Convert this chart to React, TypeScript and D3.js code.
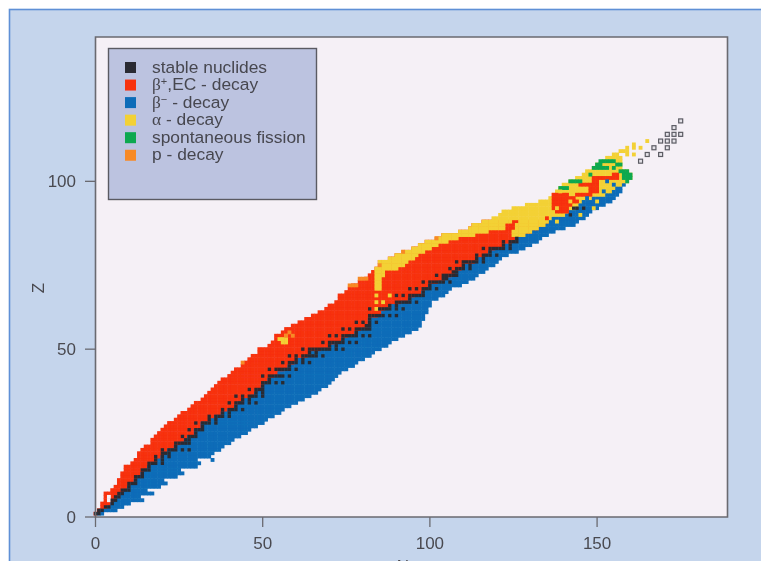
import React from "react";
import * as d3 from "d3";

// One entry per Z, starting at Z = 1
const protonEdge = [0,1,2,2,3,3,3,5,6,7,7,8,8,9,9,11,12,13,13,14,15,17,17,18,19,20,21,22,24,25,26,28,29,30,32,33,34,35,36,37,38,40,41,42,44,45,46,47,49,49,52,53,54,54,56,57,59,61,63,65,67,69,70,72,73,73,75,76,77,79,81,82,83,84,85,85,88,90,92,95,97,99,102,104,109,112,113,116,119,121,122,125,129,133,136,137,138,139,140,142,144,146,147,149,150,152,153];
const neutronEdge = [2,6,8,10,14,13,17,15,19,21,20,24,26,25,30,31,30,34,35,37,38,40,41,43,45,46,48,50,51,53,55,56,58,60,62,64,66,67,69,70,71,72,73,75,77,78,80,82,83,85,87,88,90,92,94,96,97,97,98,98,99,99,100,100,102,104,105,106,109,111,113,114,116,117,119,120,121,123,126,128,130,132,133,135,137,140,143,144,146,147,148,150,152,154,155,156,157,157,158,159,160,160,159,157,157,157,157];
const blueStart = [1,2,4,5,6,7,8,9,10,11,12,13,14,15,16,17,19,20,21,22,24,26,27,28,30,30,32,32,35,36,38,40,42,43,45,47,48,49,50,51,52,54,55,57,58,60,61,64,65,68,71,72,74,76,78,80,82,82,82,85,86,87,89,92,94,96,98,99,100,103,105,107,108,110,111,114,115,117,118,120,123,125,126,129,131,133,135,136,137,141,142,144,145,146,149,153,155,156,158,160,161,161,160,158,158,158,158];

const stableN: number[][] = [[0,1],[1,2],[3,4],[5],[5,6],[6,7],[7,8],[8,9,10],[10],[10,11,12],[12],[12,13,14],[14],[14,15,16],[16],[16,17,18,20],[18,20],[18,20,22],[20,21,22],[20,22,23,24,26,28],[24],[24,25,26,27,28],[27,28],[26,28,29,30],[30],[28,30,31,32],[32],[30,32,33,34,36],[34,36],[34,36,37,38,40],[38,40],[38,40,41,42,44],[42],[40,42,43,44,46,48],[44,46],[42,44,46,47,48,50],[48,50],[46,48,49,50],[50],[50,51,52,54,56],[52],[50,52,53,54,55,56,58],[],[52,54,55,56,57,58,60],[58],[56,58,59,60,62,64],[60,62],[58,60,62,63,64,65,66,68],[64,66],[62,64,65,66,67,68,69,70,72,74],[70,72],[68,70,71,72,73,74,76,78],[74],[70,72,74,75,76,77,78,80,82],[78],[74,76,78,79,80,81,82],[81,82],[78,80,82,84],[82],[82,83,84,85,86,88,90],[],[82,85,86,87,88,90,92],[88,90],[90,91,92,93,94,96],[94],[90,92,94,95,96,97,98],[98],[94,96,98,99,100,102],[100],[98,100,101,102,103,104,106],[104,105],[102,104,105,106,107,108],[107,108],[106,108,109,110,112],[110,112],[108,110,111,112,113,114,116],[114,116],[114,116,117,118,120],[118],[116,118,119,120,121,122,124],[122,124],[122,124,125,126],[126],[],[],[],[],[],[],[142],[],[143,144,146]];

// [Z, first N, last N]
const alphaRuns = [
  [68,84,85],[69,84,85],[70,84,85],[71,84,85],[72,84,86],[73,84,86],[74,84,90],[75,85,92],[76,85,93],[77,88,95],[78,90,96],[79,92,98],[80,95,100],[81,97,102],[82,99,105],[83,102,108],
  [84,104,113],[84,125,128],[85,109,117],[85,126,130],[86,112,122],[86,126,132],[87,113,122],[87,126,134],[88,116,124],[88,127,135],
  [53,55,57],[52,56,57],[54,57,57],[108,155,156],[108,159,159],[108,161,161],[109,157,159],[110,159,159],[110,161,161],[110,163,163],[111,161,161],[112,165,165],
];
const alphaSpots = [[84,66],[84,64],[86,64],[88,66],[84,62],[125,85],[138,88],[138,92],[142,94],[150,94],[145,90],[149,92],[139,97]];
const redRuns = [
  [91,138,141],[92,137,141],[93,137,142],[94,137,144],[95,137,143],[96,137,141],[96,144,148],[97,148,150],[98,148,150],[99,145,150],[100,149,150],[101,149,156],[102,155,156],[89,135,135],
];
const greenRuns = [
  [98,139,141],[100,142,145],[102,148,148],[104,149,153],[105,150,151],[106,151,155],[102,158,160],[101,158,160],[103,157,159],[104,155,155],[105,156,157],[100,159,159],
];
const orangeSpots = [[76,69],[77,69],[78,69],[79,71],[80,71],[81,71],[102,83],[92,79],[85,75],[58,55],[57,54],[44,46],[59,54]];
const blueSpots = [[153,100],[155,99],[147,95],[152,97],[35,17]];
const openCells = [[175,118],[173,116],[171,114],[173,114],[175,114],[169,112],[171,112],[173,112],[167,110],[171,110],[165,108],[169,108],[163,106]];
const blankCells = [[4,5],[4,6]];

const xTicks = [0, 50, 100, 150];
const yTicks = [0, 50, 100];
const legendItems = ["stable nuclides", "beta+", "beta-", "alpha", "spontaneous fission", "p - decay"];
const legendColors = ["#2a2b30", "#f7300f", "#0a6cb8", "#f3d135", "#09a850", "#f78a26"];

const colors = { red: legendColors[1], blue: legendColors[2], alpha: legendColors[3], green: legendColors[4], orange: legendColors[5], dark: legendColors[0] };
const BG = "#f5f0f6";

const x = d3.scaleLinear().domain([0, 189]).range([95.5, 727.5]);
const y = d3.scaleLinear().domain([0, 143]).range([517, 37]);
const cw = x(1) - x(0);
const ch = y(0) - y(1);

function Cell({ n, z, c, k = 1 }: { n: number; z: number; c: string; k?: number }) {
  const pad = k === 1 ? 0.25 : 0;
  return <rect x={x(n) - (cw * k) / 2 - pad} y={y(z) - (ch * k) / 2 - pad} width={cw * k + 2 * pad} height={ch * k + 2 * pad} fill={c} />;
}
function Runs({ runs, c }: { runs: number[][]; c: string }) {
  return (
    <>
      {runs.flatMap(([z, a, b]) =>
        d3.range(a, b + 1).map((n) => <Cell key={`${z}-${n}`} n={n} z={z} c={c} />)
      )}
    </>
  );
}
function Spots({ list, c, k }: { list: number[][]; c: string; k?: number }) {
  return <>{list.map(([n, z]) => <Cell key={`${n}-${z}`} n={n} z={z} c={c} k={k} />)}</>;
}

function LegendLabel({ item, ty }: { item: string; ty: number }) {
  const serif = "'Liberation Serif', serif";
  if (item === "beta+")
    return (
      <text x={152} y={ty}>
        <tspan fontFamily={serif}>β</tspan>
        <tspan fontSize={11} dy={-5}>+</tspan>
        <tspan dy={5}>,EC - decay</tspan>
      </text>
    );
  if (item === "beta-")
    return (
      <text x={152} y={ty}>
        <tspan fontFamily={serif}>β</tspan>
        <tspan fontSize={11} dy={-5}>−</tspan>
        <tspan dy={5}> - decay</tspan>
      </text>
    );
  if (item === "alpha")
    return (
      <text x={152} y={ty}>
        <tspan fontFamily={serif}>α</tspan>
        <tspan> - decay</tspan>
      </text>
    );
  return <text x={152} y={ty}>{item}</text>;
}

export default function App() {
  const base = protonEdge.map((_, i) => i + 1);
  return (
    <svg width={761} height={561} style={{ position: "absolute", left: 0, top: 0, background: "#fff" }} fontFamily="'Liberation Sans', Arial, sans-serif">
      <defs>
        <filter id="soft" x="-2%" y="-2%" width="104%" height="104%">
          <feGaussianBlur stdDeviation="0.6" />
        </filter>
      </defs>
      <g filter="url(#soft)">
        <rect x={9.5} y={9.5} width={780} height={600} fill="#c5d5ec" stroke="#5e90d6" strokeWidth={1.6} />
        <rect x={x(0)} y={y(143)} width={x(189) - x(0)} height={y(0) - y(143)} fill={BG} />

        <g>
          {base.map((z) => {
            const a = protonEdge[z - 1];
            const s = blueStart[z - 1];
            const b = neutronEdge[z - 1];
            return (
              <g key={z}>
                {d3.range(a, Math.min(s, b + 1)).map((n) => (
                  <Cell key={n} n={n} z={z} c={z <= 88 ? colors.red : colors.alpha} />
                ))}
                {d3.range(s, b + 1).map((n) => (
                  <Cell key={n} n={n} z={z} c={colors.blue} />
                ))}
              </g>
            );
          })}
          <Runs runs={alphaRuns} c={colors.alpha} />
          <Runs runs={redRuns} c={colors.red} />
          <Runs runs={greenRuns} c={colors.green} />
          <Spots list={alphaSpots} c={colors.alpha} />
          <Spots list={orangeSpots} c={colors.orange} />
          <Spots list={blueSpots} c={colors.blue} />
          <Spots list={blankCells} c={BG} />
          {stableN.flatMap((ns, i) => ns.map((n) => <Cell key={`s${i}-${n}`} n={n} z={i + 1} c={colors.dark} k={0.999} />))}
          {openCells.map(([n, z]) => (
            <rect key={`${n}-${z}`} x={x(n) - 2} y={y(z) - 2} width={4} height={4} fill="#e4e2e8" stroke="#5c5c64" strokeWidth={1.2} />
          ))}
        </g>

        <path d={`M${x(0)},${y(143)}H${x(189)}V${y(0)}H${x(0)}Z`} fill="none" stroke="#6a6a70" strokeWidth={1.6} />
        {xTicks.map((t) => (
          <g key={t}>
            <line x1={x(t)} x2={x(t)} y1={517} y2={527} stroke="#6a6a70" strokeWidth={1.3} />
            <text x={x(t)} y={549} textAnchor="middle" fontSize={17} fill="#4a4a50">{t}</text>
          </g>
        ))}
        {yTicks.map((t) => (
          <g key={t}>
            <line x1={85} x2={95.5} y1={y(t)} y2={y(t)} stroke="#6a6a70" strokeWidth={1.3} />
            <text x={76} y={y(t) + 6} textAnchor="end" fontSize={17} fill="#4a4a50">{t}</text>
          </g>
        ))}
        <text x={0} y={0} transform="translate(44,288) rotate(-90)" textAnchor="middle" fontSize={17} fill="#4a4a50">Z</text>
        <text x={403} y={572} textAnchor="middle" fontSize={17} fill="#4a4a50">N</text>

        <rect x={108.5} y={48.5} width={208} height={151} fill="#bcc3e0" stroke="#5a5a62" strokeWidth={1.4} />
        <g fontSize={17.4} fill="#47474f">
          {legendItems.map((item, i) => {
            const cy = 67.5 + i * 17.55;
            return (
              <g key={item}>
                <rect x={125} y={cy - 5.5} width={11} height={11} fill={legendColors[i]} />
                <LegendLabel item={item} ty={cy + 5} />
              </g>
            );
          })}
        </g>
      </g>
    </svg>
  );
}
